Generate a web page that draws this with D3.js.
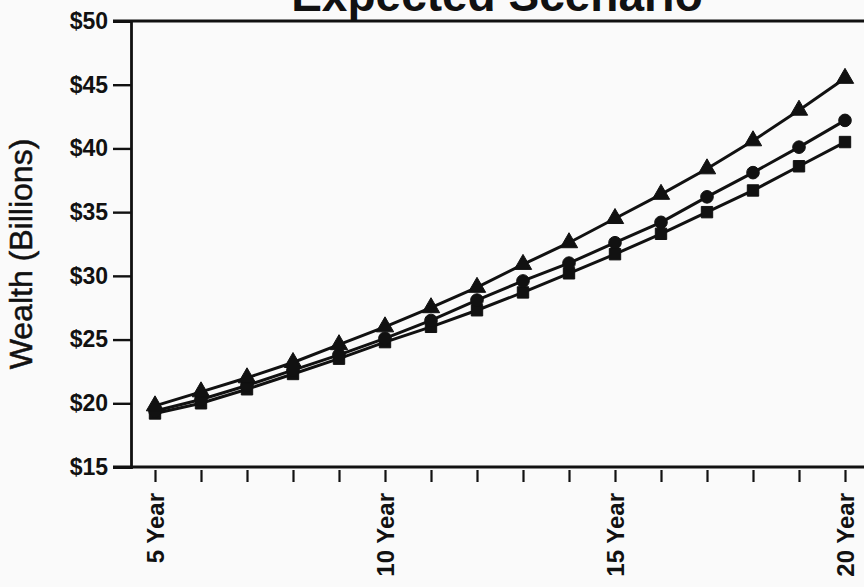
<!DOCTYPE html>
<html>
<head>
<meta charset="utf-8">
<script src="https://cdn.jsdelivr.net/npm/d3@7"></script>
<style>
  html, body { margin: 0; padding: 0; background: #fafafa; }
  svg { display: block; font-family: "Liberation Sans", Arial, sans-serif; }
</style>
</head>
<body>
<svg id="chart" width="864" height="587"></svg>
<script>
// ---- data ----
const years = [5, 6, 7, 8, 9, 10, 11, 12, 13, 14, 15, 16, 17, 18, 19, 20];
const labeledYears = [5, 10, 15, 20];
const triangleSeries = [19.8, 20.9, 22.0, 23.2, 24.6, 26.0, 27.5, 29.1, 30.9, 32.6, 34.5, 36.4, 38.4, 40.6, 43.0, 45.5];
const circleSeries   = [19.4, 20.3, 21.4, 22.6, 23.8, 25.1, 26.5, 28.1, 29.6, 31.0, 32.6, 34.2, 36.2, 38.1, 40.1, 42.2];
const squareSeries   = [19.2, 20.0, 21.1, 22.3, 23.5, 24.8, 26.0, 27.3, 28.7, 30.2, 31.7, 33.3, 35.0, 36.7, 38.6, 40.5];
const yTicks = [15, 20, 25, 30, 35, 40, 45, 50];
const titleText = "Expected Scenario";
const yTitle = "Wealth (Billions)";

// ---- layout ----
const svg = d3.select("#chart");
const x = d3.scaleLinear().domain([5, 20]).range([155, 845]);
const y = d3.scaleLinear().domain([15, 50]).range([467, 21]);
const axisX = 131;
const frameLeft = 113, frameRight = 864;

// title (clipped at top, like the reference)
svg.append("text")
  .attr("x", 497).attr("y", 11)
  .attr("text-anchor", "middle")
  .attr("font-size", 46).attr("font-weight", "bold")
  .attr("fill", "#111")
  .text(titleText);

// y axis
const yAxis = svg.append("g")
  .attr("transform", `translate(${axisX},0)`)
  .call(d3.axisLeft(y).tickValues(yTicks).tickFormat(d => "$" + d).tickSize(18).tickPadding(5));
yAxis.select(".domain").attr("stroke", "#111").attr("stroke-width", 2.8);
yAxis.selectAll(".tick line").attr("stroke", "#111").attr("stroke-width", 2.4);
yAxis.selectAll(".tick text")
  .attr("font-size", 23).attr("font-weight", "bold").attr("fill", "#111")
  .attr("font-family", "'Liberation Sans', Arial, sans-serif");

// frame lines top and bottom
[y(50), y(15)].forEach(v => {
  svg.append("line")
    .attr("x1", frameLeft).attr("x2", frameRight)
    .attr("y1", v).attr("y2", v)
    .attr("stroke", "#111").attr("stroke-width", 2.8);
});

// x axis
const xAxis = svg.append("g")
  .attr("transform", `translate(0,${y(15)})`)
  .call(d3.axisBottom(x).tickValues(years)
    .tickFormat(d => labeledYears.includes(d) ? d + " Year" : "")
    .tickSize(15).tickPadding(0));
xAxis.select(".domain").remove();
xAxis.selectAll(".tick line").attr("stroke", "#111").attr("stroke-width", 2.2).attr("y1", 3);
xAxis.selectAll(".tick text")
  .attr("font-size", 24).attr("font-weight", "bold").attr("fill", "#111")
  .attr("font-family", "'Liberation Sans', Arial, sans-serif")
  .attr("text-anchor", "end")
  .attr("transform", "rotate(-90)")
  .attr("x", -26).attr("y", 0).attr("dy", "0.35em");

// y-axis title
svg.append("text")
  .attr("transform", `translate(32,254) rotate(-90)`)
  .attr("text-anchor", "middle")
  .attr("font-size", 32).attr("fill", "#111")
  .attr("stroke", "#111").attr("stroke-width", 0.5)
  .text(yTitle);

// lines
const line = d3.line().x((d, i) => x(years[i])).y(d => y(d));
const seriesList = [
  { values: squareSeries, shape: d3.symbolSquare, size: 130 },
  { values: circleSeries, shape: d3.symbolCircle, size: 125 },
  { values: triangleSeries, shape: d3.symbolTriangle, size: 130 }
];
seriesList.forEach(s => {
  svg.append("path").datum(s.values)
    .attr("d", line)
    .attr("fill", "none").attr("stroke", "#111").attr("stroke-width", 3);
});
seriesList.forEach(s => {
  svg.append("g").selectAll("path").data(s.values).join("path")
    .attr("transform", (d, i) => `translate(${x(years[i])},${y(d)})`)
    .attr("d", d3.symbol().type(s.shape).size(s.size))
    .attr("fill", "#111").attr("stroke", "#111").attr("stroke-width", 1);
});
</script>
</body>
</html>
